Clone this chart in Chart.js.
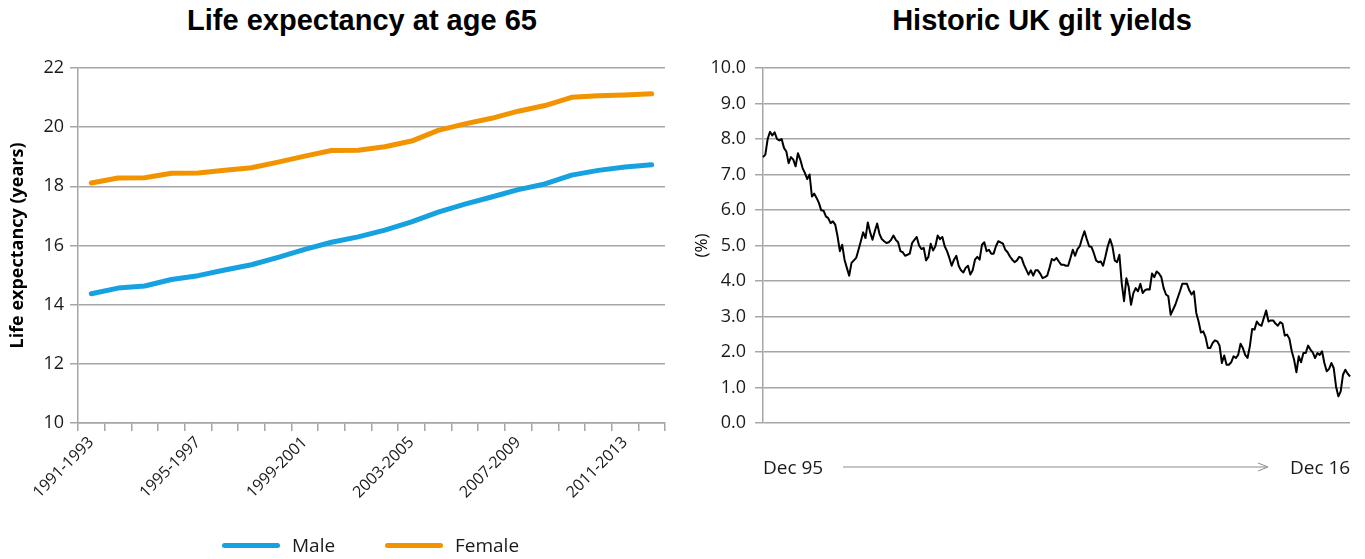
<!DOCTYPE html>
<html>
<head>
<meta charset="utf-8">
<script src="https://cdn.jsdelivr.net/npm/chart.js@4.4.1/dist/chart.umd.min.js"></script>
<style>
  body { margin: 0; background: #fff; width: 1365px; height: 559px; position: relative; overflow: hidden; font-family: 'Open Sans', sans-serif; color: #1a1a1a; }
  .box { position: absolute; top: 0; height: 559px; }
  .title { position: absolute; top: 4px; transform: translateX(-50%); font: bold 29px 'Liberation Sans', Arial, sans-serif; white-space: nowrap; color: #000; }
  .lab { position: absolute; font-size: 19px; line-height: 24px; white-space: nowrap; }
  .swatch { position: absolute; height: 5px; width: 58px; border-radius: 3px; }
</style>
</head>
<body>
<div class="title" style="left:362px">Life expectancy at age 65</div>
<div class="title" style="left:1042px">Historic UK gilt yields</div>

<div class="box" style="left:0; width:680px"><canvas id="lifeChart" width="680" height="559"></canvas></div>
<div class="box" style="left:680px; width:685px"><canvas id="giltChart" width="685" height="559"></canvas></div>

<div class="swatch" style="left:222px; top:543px; background:#16a1e0"></div>
<div class="lab" style="left:292px; top:533px">Male</div>
<div class="swatch" style="left:385px; top:543px; background:#f29400"></div>
<div class="lab" style="left:455px; top:533px">Female</div>

<div class="lab" id="startLab" style="left:763px; top:455px"></div>
<svg style="position:absolute; left:838px; top:460px" width="436" height="14">
  <line x1="5" y1="7" x2="428" y2="7" stroke="#8c8c8c" stroke-width="1"/>
  <path d="M420 3 L430 7 L420 11" fill="none" stroke="#8c8c8c" stroke-width="1"/>
</svg>
<div class="lab" id="endLab" style="left:1290px; top:455px"></div>

<script>
// life expectancy at 65, three-year periods
const periods = ['1991-1993', '1992-1994', '1993-1995', '1994-1996', '1995-1997', '1996-1998',
  '1997-1999', '1998-2000', '1999-2001', '2000-2002', '2001-2003', '2002-2004', '2003-2005',
  '2004-2006', '2005-2007', '2006-2008', '2007-2009', '2008-2010', '2009-2011', '2010-2012',
  '2011-2013', '2012-2014'];
const maleLE = [14.37, 14.56, 14.63, 14.85, 14.98, 15.17, 15.35, 15.60, 15.87, 16.11, 16.29,
  16.52, 16.80, 17.13, 17.40, 17.64, 17.89, 18.08, 18.38, 18.54, 18.65, 18.73];
const femaleLE = [18.11, 18.28, 18.29, 18.44, 18.45, 18.54, 18.63, 18.82, 19.02, 19.21, 19.22,
  19.34, 19.53, 19.89, 20.11, 20.30, 20.54, 20.73, 21.01, 21.06, 21.09, 21.13];

// monthly gilt yields (%), Dec 95 .. Dec 16
const giltYields = [
  7.49,
  7.56, 8.00, 8.20, 8.10, 8.19, 8.00, 7.96, 8.00, 7.75, 7.65, 7.32, 7.49,
  7.42, 7.23, 7.60, 7.42, 7.18, 7.04, 6.87, 7.00, 6.38, 6.46, 6.34, 6.20,
  5.99, 5.98, 5.82, 5.77, 5.63, 5.68, 5.59, 5.26, 4.84, 5.02, 4.60, 4.37,
  4.15, 4.51, 4.58, 4.65, 4.88, 5.12, 5.37, 5.21, 5.65, 5.37, 5.16, 5.40,
  5.62, 5.33, 5.18, 5.12, 5.07, 5.09, 5.16, 5.28, 5.16, 5.09, 4.84, 4.81,
  4.71, 4.74, 4.77, 5.07, 5.16, 5.24, 5.00, 4.90, 4.93, 4.58, 4.68, 5.05,
  4.86, 4.98, 5.28, 5.18, 5.24, 4.98, 4.84, 4.65, 4.43, 4.60, 4.71, 4.43,
  4.30, 4.24, 4.37, 4.43, 4.18, 4.30, 4.60, 4.68, 4.60, 5.02, 5.09, 4.84,
  4.88, 4.77, 4.77, 4.98, 5.12, 5.09, 5.05, 4.88, 4.81, 4.69, 4.60, 4.53,
  4.58, 4.68, 4.65, 4.46, 4.32, 4.18, 4.30, 4.15, 4.30, 4.30, 4.21, 4.08,
  4.11, 4.15, 4.37, 4.62, 4.58, 4.65, 4.55, 4.46, 4.46, 4.43, 4.43, 4.65,
  4.88, 4.71, 4.90, 4.98, 5.21, 5.40, 5.18, 4.98, 4.96, 4.79, 4.58, 4.53,
  4.55, 4.43, 4.69, 4.98, 5.18, 4.98, 4.58, 4.53, 4.74, 3.94, 3.43, 4.08,
  3.83, 3.33, 3.66, 3.80, 3.71, 3.92, 3.66, 3.74, 3.77, 3.76, 4.21, 4.11,
  4.27, 4.21, 4.11, 3.80, 3.62, 3.57, 3.05, 3.19, 3.33, 3.52, 3.71, 3.92,
  3.92, 3.92, 3.74, 3.62, 3.71, 3.10, 2.86, 2.55, 2.58, 2.42, 2.11, 2.11,
  2.25, 2.33, 2.30, 2.18, 1.69, 1.90, 1.64, 1.64, 1.71, 1.88, 1.83, 1.92,
  2.23, 2.11, 1.92, 1.83, 2.16, 2.65, 2.63, 2.86, 2.77, 2.74, 2.96, 3.17,
  2.86, 2.89, 2.89, 2.80, 2.74, 2.84, 2.80, 2.46, 2.49, 2.37, 2.02, 1.78,
  1.43, 1.88, 1.71, 1.97, 1.97, 2.18, 2.07, 1.99, 1.83, 1.97, 1.92, 2.02,
  1.69, 1.46, 1.52, 1.69, 1.55, 1.03, 0.75, 0.89, 1.36, 1.50, 1.39, 1.31
];

const monthNames = ['Jan', 'Feb', 'Mar', 'Apr', 'May', 'Jun', 'Jul', 'Aug', 'Sep', 'Oct', 'Nov', 'Dec'];
let giltMonths = giltYields.map((v, i) => {
  let m = (11 + i) % 12;
  let y = 1995 + Math.floor((11 + i) / 12);
  return monthNames[m] + ' ' + String(y).slice(2);
});
document.getElementById('startLab').textContent = giltMonths[0];
document.getElementById('endLab').textContent = giltMonths[giltMonths.length - 1];

Chart.defaults.font.family = "'Open Sans', sans-serif";
Chart.defaults.color = '#1a1a1a';
Chart.defaults.animation = false;

const GRID = '#a6a6a6';

new Chart(document.getElementById('lifeChart'), {
  type: 'line',
  data: {
    labels: periods,
    datasets: [
      { label: 'Male', data: maleLE, borderColor: '#16a1e0', borderWidth: 5, pointRadius: 0, tension: 0, borderCapStyle: 'round', borderJoinStyle: 'round' },
      { label: 'Female', data: femaleLE, borderColor: '#f29400', borderWidth: 5, pointRadius: 0, tension: 0, borderCapStyle: 'round', borderJoinStyle: 'round' }
    ]
  },
  options: {
    responsive: false,
    devicePixelRatio: 1,
    layout: { padding: { top: 68, right: 15, left: 0, bottom: 0 } },
    plugins: { legend: { display: false }, tooltip: { enabled: false } },
    scales: {
      x: {
        offset: true,
        grid: { drawOnChartArea: false, offset: true, color: GRID, lineWidth: 1.5, tickLength: 8 },
        border: { color: GRID, width: 1.5 },
        ticks: {
          autoSkip: false, minRotation: 45, maxRotation: 45, padding: 2,
          font: { size: 16 },
          callback: function(val, idx) { return idx % 4 === 0 ? periods[idx] : ''; }
        },
        afterFit: function(s) { s.height = 136; }
      },
      y: {
        min: 10, max: 22,
        ticks: { stepSize: 2, font: { size: 18 }, padding: 6 },
        grid: { color: GRID, lineWidth: 1.5, tickLength: 8 },
        border: { color: GRID, width: 1.5 },
        title: { display: true, text: 'Life expectancy (years)', font: { size: 18, weight: 'bold' }, color: '#000', padding: { top: 7, bottom: 0 } },
        afterFit: function(s) { s.width = 78; }
      }
    }
  }
});

new Chart(document.getElementById('giltChart'), {
  type: 'line',
  data: {
    labels: giltMonths,
    datasets: [
      { label: 'Gilt yield', data: giltYields, borderColor: '#000', borderWidth: 2, pointRadius: 0, tension: 0, borderJoinStyle: 'round' }
    ]
  },
  options: {
    responsive: false,
    devicePixelRatio: 1,
    layout: { padding: { top: 68, right: 15, left: 0, bottom: 0 } },
    plugins: { legend: { display: false }, tooltip: { enabled: false } },
    scales: {
      x: {
        ticks: { display: false },
        grid: { display: false },
        border: { display: false },
        afterFit: function(s) { s.height = 136; }
      },
      y: {
        min: 0, max: 10,
        ticks: { stepSize: 1, font: { size: 18 }, padding: 9, callback: v => v.toFixed(1) },
        grid: { color: GRID, lineWidth: 1.5, tickLength: 8 },
        border: { color: GRID, width: 1.5 },
        title: { display: true, text: '(%)', font: { size: 17 }, color: '#000', padding: { top: 12, bottom: 0 } },
        afterFit: function(s) { s.width = 83; }
      }
    }
  }
});
</script>
</body>
</html>
